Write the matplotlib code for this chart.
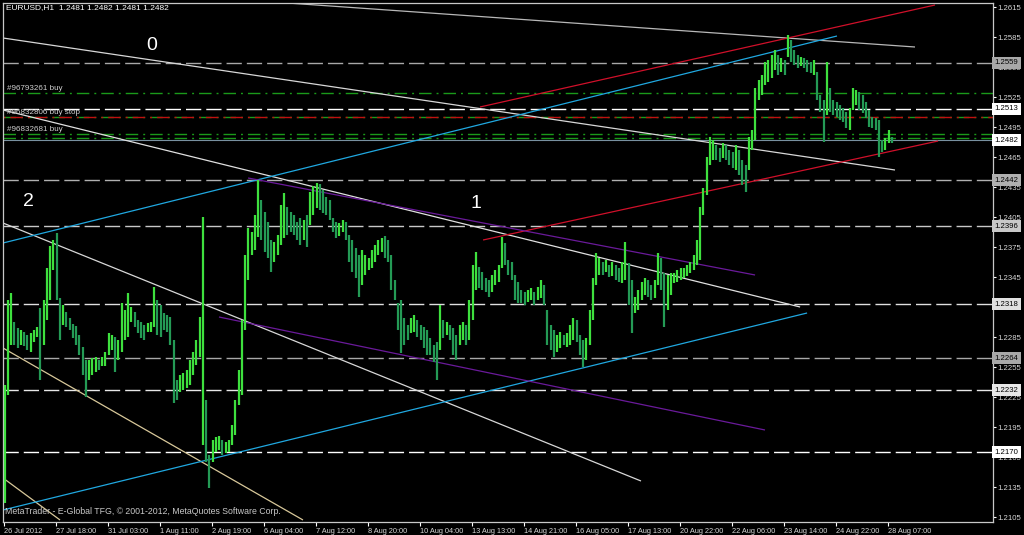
import matplotlib
matplotlib.use("Agg")
import matplotlib.pyplot as plt
import numpy as np

W, H = 1024, 535

# EURUSD H1, read as 2-hour high/low pairs (price * 1e4)
HIGH = np.array([
    12237, 12322, 12329, 12300, 12294, 12292, 12290, 12287, 12289, 12292,
    12295, 12314, 12322, 12354, 12376, 12382, 12389, 12324, 12317, 12310,
    12304, 12298, 12296, 12287, 12275, 12262, 12262, 12264, 12265, 12262,
    12265, 12270, 12289, 12287, 12285, 12282, 12319, 12312, 12329, 12315,
    12310, 12302, 12300, 12297, 12299, 12300, 12335, 12322, 12317, 12309,
    12307, 12305, 12282, 12242, 12247, 12249, 12252, 12262, 12270, 12282,
    12305, 12405, 12222, 12167, 12182, 12185, 12186, 12182, 12180, 12182,
    12197, 12222, 12252, 12302, 12367, 12394, 12390, 12407, 12442, 12422,
    12410, 12400, 12382, 12380, 12387, 12417, 12429, 12415, 12410, 12407,
    12400, 12404, 12402, 12407, 12430, 12436, 12439, 12438, 12432, 12425,
    12422, 12404, 12400, 12399, 12402, 12400, 12387, 12382, 12374, 12367,
    12372, 12367, 12364, 12372, 12377, 12382, 12384, 12386, 12382, 12367,
    12342, 12319, 12322, 12304, 12297, 12304, 12307, 12302, 12297, 12295,
    12292, 12284, 12277, 12280, 12317, 12302, 12300, 12297, 12294, 12287,
    12297, 12300, 12297, 12322, 12357, 12370, 12355, 12350, 12344, 12342,
    12347, 12352, 12357, 12385, 12379, 12362, 12360, 12347, 12340, 12332,
    12330, 12332, 12334, 12330, 12335, 12342, 12337, 12312, 12297, 12292,
    12287, 12290, 12287, 12289, 12297, 12304, 12302, 12287, 12282, 12284,
    12312, 12344, 12369, 12364, 12360, 12362, 12357, 12360, 12357, 12354,
    12360, 12380, 12359, 12342, 12325, 12332, 12340, 12344, 12342, 12337,
    12342, 12369, 12364, 12349, 12347, 12349, 12349, 12352, 12354, 12354,
    12357, 12360, 12367, 12382, 12415, 12434, 12465, 12485, 12482, 12477,
    12474, 12479, 12477, 12472, 12470, 12477, 12472, 12462, 12457, 12485,
    12492, 12534, 12542, 12547, 12560, 12562, 12567, 12572, 12567, 12564,
    12562, 12587, 12582, 12572, 12567, 12565, 12564, 12562, 12560, 12562,
    12550, 12527, 12522, 12560, 12534, 12522, 12520, 12517, 12514, 12510,
    12514, 12534, 12532, 12530, 12527, 12520, 12512, 12505, 12504, 12502,
    12482, 12484, 12492, 12485]) / 1e4

LOW = np.array([
    12119, 12227, 12277, 12277, 12274, 12277, 12276, 12272, 12270, 12280,
    12285, 12242, 12277, 12302, 12322, 12352, 12322, 12282, 12297, 12295,
    12292, 12284, 12277, 12267, 12247, 12225, 12242, 12247, 12250, 12252,
    12256, 12256, 12267, 12272, 12250, 12262, 12270, 12282, 12285, 12300,
    12295, 12289, 12284, 12282, 12290, 12290, 12295, 12287, 12285, 12292,
    12290, 12277, 12219, 12222, 12230, 12232, 12234, 12237, 12247, 12257,
    12265, 12177, 12160, 12134, 12160, 12170, 12172, 12167, 12169, 12170,
    12177, 12187, 12217, 12227, 12292, 12342, 12367, 12372, 12385, 12382,
    12370, 12364, 12350, 12360, 12367, 12377, 12384, 12387, 12390, 12387,
    12382, 12377, 12382, 12375, 12397, 12407, 12414, 12412, 12409, 12407,
    12402, 12390, 12384, 12386, 12390, 12382, 12360, 12350, 12344, 12325,
    12337, 12347, 12352, 12354, 12360, 12367, 12370, 12364, 12360, 12332,
    12322, 12292, 12269, 12277, 12282, 12289, 12290, 12285, 12282, 12274,
    12267, 12267, 12260, 12242, 12272, 12284, 12287, 12282, 12267, 12262,
    12277, 12282, 12277, 12282, 12302, 12332, 12334, 12332, 12330, 12325,
    12330, 12337, 12340, 12354, 12357, 12347, 12342, 12322, 12319, 12319,
    12317, 12320, 12322, 12317, 12322, 12324, 12317, 12277, 12272, 12265,
    12270, 12274, 12277, 12275, 12277, 12282, 12280, 12267, 12255, 12262,
    12277, 12302, 12337, 12347, 12347, 12350, 12345, 12346, 12342, 12340,
    12339, 12342, 12317, 12289, 12309, 12312, 12322, 12327, 12325, 12322,
    12324, 12337, 12332, 12295, 12312, 12327, 12339, 12340, 12342, 12344,
    12346, 12349, 12352, 12357, 12362, 12407, 12427, 12457, 12462, 12462,
    12460, 12464, 12462, 12457, 12454, 12452, 12447, 12437, 12430, 12452,
    12472, 12482, 12522, 12527, 12537, 12540, 12544, 12552, 12547, 12550,
    12547, 12565, 12560, 12557, 12554, 12556, 12554, 12550, 12549, 12547,
    12522, 12510, 12480, 12507, 12510, 12507, 12505, 12502, 12500, 12494,
    12492, 12512, 12517, 12512, 12509, 12504, 12495, 12494, 12492, 12465,
    12470, 12472, 12479, 12479]) / 1e4

DATE_LABELS = ["26 Jul 2012", "27 Jul 18:00", "31 Jul 03:00", "1 Aug 11:00",
               "2 Aug 19:00", "6 Aug 04:00", "7 Aug 12:00", "8 Aug 20:00",
               "10 Aug 04:00", "13 Aug 13:00", "14 Aug 21:00", "16 Aug 05:00",
               "17 Aug 13:00", "20 Aug 22:00", "22 Aug 06:00", "23 Aug 14:00",
               "24 Aug 22:00", "28 Aug 07:00"]
BARS_PER_LABEL = 32

LEVELS = [1.2559, 1.2513, 1.2442, 1.2396, 1.2318, 1.2264, 1.2232, 1.2170]
LEVEL_COLORS = ["#a8a8a8", "#ffffff", "#b0b0b0", "#c8c8c8",
                "#e0e0e0", "#a8a8a8", "#e8e8e8", "#ffffff"]

ORDER_PRICES = [1.2529, 1.2505, 1.2488, 1.2484]
ORDER_LABELS = ["#96793261 buy", "#96832806 buy stop", "#96832681 buy", None]
BID = 1.2482

# trend lines: (bar0, price0, bar1, price1)
TRENDLINES = [
    (157.0, 1.2621, 560.7, 1.2575),
    (-0.5, 1.2584, 548.4, 1.2452),
    (-0.5, 1.2512, 490.0, 1.2315),
    (-0.5, 1.2399, 392.1, 1.2141),
    (-0.5, 1.2274, 184.1, 1.2102),
    (-0.5, 1.2144, 34.6, 1.2102),
    (-0.5, 1.2379, 512.7, 1.2586),
    (-0.5, 1.2112, 494.3, 1.2309),
    (293.0, 1.2515, 573.0, 1.2617),
    (294.9, 1.2382, 574.9, 1.2481),
    (150.3, 1.2444, 462.3, 1.2347),
    (132.4, 1.2305, 468.4, 1.2192),
]
TREND_COLORS = ["#b8b8b8", "#d8d8d8", "#e0e0e0", "#d8d8d8", "#d8c89a", "#d8c89a",
                "#20a8e0", "#20a8e0", "#d0102a", "#d0102a", "#6a1a9a", "#6a1a9a"]

TICK_PRICES = np.round(1.2105 + 0.003 * np.arange(18), 4)

plt.rcParams["font.family"] = ["Liberation Sans", "DejaVu Sans"]
fig = plt.figure(figsize=(W / 100, H / 100), dpi=100, facecolor="black")
ax = fig.add_axes([3 / W, 13 / H, 990 / W, 519 / H], facecolor="black")

def px(x, y):
    return x / W, 1 - y / H

# horizontal levels
for lv, c in zip(LEVELS, LEVEL_COLORS):
    ax.axhline(lv, color=c, lw=1.0, dashes=(11, 3.6), zorder=1)
    ax.text(1.0015, lv, "%.4f" % lv, transform=ax.get_yaxis_transform(),
            fontsize=5.6, color="black", va="center", ha="left",
            bbox=dict(boxstyle="square,pad=0.3", fc=c, ec="none"), zorder=5,
            clip_on=False)

for i, p in enumerate(ORDER_PRICES):
    ax.axhline(p, color="#1a9a1a", lw=1.0, dashes=(9, 3.6, 1.4, 3.6), zorder=1)
    if i == 1:
        ax.axhline(p, color="#c01010", lw=1.0, dashes=(1.4, 3.6, 9, 3.6), zorder=1)
    if ORDER_LABELS[i]:
        ax.text(2.0, p + 0.0001, ORDER_LABELS[i], fontsize=5.8, color="#d0d0d0",
                va="bottom", ha="left", zorder=4)

ax.axhline(BID, color="#7890a0", lw=0.8, zorder=2)
ax.text(1.0015, BID, "%.4f" % BID, transform=ax.get_yaxis_transform(),
        fontsize=5.6, color="black", va="center", ha="left",
        bbox=dict(boxstyle="square,pad=0.3", fc="white", ec="none"), zorder=6,
        clip_on=False)

for (b0, p0, b1, p1), c in zip(TRENDLINES, TREND_COLORS):
    ax.plot([b0, b1], [p0, p1], color=c, lw=0.9, zorder=2, solid_capstyle="butt")

# bars
xs = np.arange(len(HIGH)) * 2 + 0.5
mid = (HIGH + LOW) / 2
up = np.concatenate([[True], np.diff(mid) >= 0])
cols = np.where(up, "#3ee03e", "#249a55")
ax.vlines(xs, LOW, HIGH, colors=cols, lw=1.6, zorder=3)

ax.set_xlim(-0.5, 608.7)
ax.set_ylim(1.2100, 1.2619)

ax.yaxis.tick_right()
ax.set_yticks(TICK_PRICES)
ax.set_yticklabels(["%.4f" % t for t in TICK_PRICES])
ax.tick_params(axis="y", colors="white", labelcolor="#d8d8d8", length=2,
               width=0.8, labelsize=5.6, pad=1)
ax.set_xticks(np.arange(len(DATE_LABELS)) * BARS_PER_LABEL)
ax.set_xticklabels(DATE_LABELS, ha="left")
ax.tick_params(axis="x", colors="white", labelcolor="#d8d8d8", length=3,
               width=0.8, labelsize=5.3, pad=1)

for s in ax.spines.values():
    s.set_color("#c8c8c8")
    s.set_linewidth(0.9)

fig.text(*px(6, 8), "EURUSD,H1  1.2481 1.2482 1.2481 1.2482", fontsize=6,
         color="white", va="center", ha="left")
fig.text(*px(5, 512), "MetaTrader - E-Global TFG, \u00a9 2001-2012, MetaQuotes Software Corp.",
         fontsize=6.3, color="#c8c8c8", va="center", ha="left")
for t, x, y in [("0", 152, 45), ("1", 476, 203), ("2", 28, 201)]:
    fig.text(*px(x, y), t, fontsize=14, color="white", va="center", ha="center")

fig.savefig("out.png", dpi=100, facecolor="black")
